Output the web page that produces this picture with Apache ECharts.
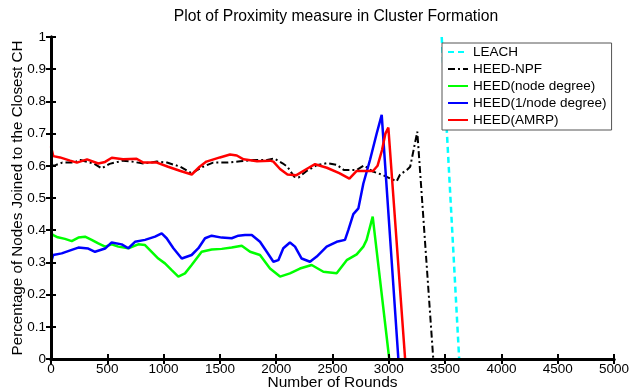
<!DOCTYPE html>
<html>
<head>
<meta charset="utf-8">
<script src="https://cdn.jsdelivr.net/npm/echarts@6/dist/echarts.min.js"></script>
<style>html,body{margin:0;padding:0;background:#fff}#c{width:630px;height:392px}</style>
</head>
<body>
<div id="c"></div>
<script>
const titleText = 'Plot of Proximity measure in Cluster Formation';
const xName = 'Number of Rounds';
const yName = 'Percentage of Nodes Joined to the Closest CH';
const seriesNames = ['LEACH', 'HEED-NPF', 'HEED(node degree)', 'HEED(1/node degree)', 'HEED(AMRP)'];

const leach = [[3470,1],[3625,0]];
const heedNpf = [[0,0.6],[40,0.602],[100,0.61],[200,0.61],[260,0.618],[380,0.607],[450,0.592],[520,0.606],[640,0.616],[720,0.613],[820,0.607],[940,0.613],[1030,0.61],[1150,0.597],[1250,0.577],[1350,0.597],[1440,0.61],[1560,0.61],[1680,0.614],[1800,0.618],[1920,0.618],[1980,0.623],[2060,0.607],[2100,0.597],[2160,0.566],[2200,0.564],[2270,0.584],[2360,0.602],[2450,0.608],[2540,0.603],[2600,0.587],[2715,0.587],[2780,0.601],[2860,0.582],[2950,0.571],[3010,0.561],[3070,0.552],[3100,0.573],[3160,0.587],[3190,0.597],[3253,0.706],[3395,0]];
const heedNodeDegree = [[0,0.39],[20,0.385],[60,0.378],[124,0.373],[184,0.366],[243,0.377],[302,0.38],[361,0.37],[420,0.359],[480,0.349],[539,0.356],[598,0.349],[687,0.344],[775,0.356],[835,0.354],[894,0.333],[953,0.312],[1012,0.297],[1072,0.276],[1131,0.256],[1190,0.266],[1249,0.292],[1338,0.333],[1427,0.34],[1516,0.342],[1605,0.346],[1694,0.352],[1768,0.333],[1856,0.323],[1945,0.281],[2034,0.256],[2122,0.266],[2211,0.281],[2315,0.292],[2419,0.271],[2537,0.266],[2626,0.307],[2715,0.325],[2774,0.349],[2803,0.37],[2857,0.442],[3004,0]];
const heedInvDegree = [[0,0.30],[20,0.323],[95,0.328],[184,0.339],[243,0.346],[331,0.343],[391,0.333],[480,0.343],[539,0.362],[628,0.356],[687,0.344],[746,0.364],[835,0.37],[924,0.38],[983,0.39],[1027,0.375],[1087,0.344],[1161,0.312],[1249,0.323],[1309,0.344],[1368,0.375],[1427,0.383],[1516,0.377],[1605,0.375],[1664,0.383],[1723,0.385],[1783,0.385],[1856,0.364],[1916,0.333],[1975,0.302],[2019,0.307],[2063,0.344],[2122,0.362],[2167,0.349],[2226,0.312],[2300,0.302],[2360,0.318],[2448,0.349],[2537,0.364],[2611,0.37],[2641,0.401],[2685,0.45],[2730,0.468],[2774,0.545],[2833,0.618],[2893,0.701],[2937,0.758],[3085,0]];
const heedAmrp = [[0,0.66],[20,0.63],[80,0.626],[170,0.616],[230,0.61],[320,0.62],[420,0.607],[480,0.612],[540,0.625],[640,0.62],[760,0.622],[820,0.61],[940,0.61],[1040,0.597],[1150,0.584],[1250,0.573],[1320,0.597],[1380,0.613],[1500,0.626],[1590,0.635],[1650,0.632],[1710,0.62],[1830,0.614],[1945,0.616],[1975,0.613],[2034,0.59],[2100,0.573],[2180,0.571],[2270,0.59],[2345,0.605],[2450,0.594],[2560,0.577],[2650,0.56],[2715,0.584],[2800,0.584],[2860,0.584],[2900,0.6],[2940,0.649],[2970,0.70],[2996,0.719],[3145,0]];

const font = 'Liberation Sans, Arial, sans-serif';
const chart = echarts.init(document.getElementById('c'), null, {renderer: 'canvas'});
const axisLine = {show: true, lineStyle: {color: '#000', width: 3}};
const tick = {show: true, inside: true, length: 5, lineStyle: {color: '#000', width: 2}};
const lbl = {color: '#000', fontSize: 13.5, fontFamily: font};
chart.setOption({
  animation: false,
  backgroundColor: '#fff',
  title: {text: titleText, left: 331, top: 4, textAlign: 'center',
    textStyle: {fontSize: 15.7, fontWeight: 'normal', color: '#000', fontFamily: font}},
  grid: {left: 51, right: 16, top: 37, bottom: 33, containLabel: false, outerBoundsMode: 'none'},
  legend: {
    orient: 'vertical', left: 442, top: 43, padding: [2, 5, 3, 5],
    itemWidth: 20, itemHeight: 12, itemGap: 3,
    itemStyle: {opacity: 0},
    backgroundColor: '#fff', borderColor: '#555', borderWidth: 1, borderRadius: 0,
    textStyle: {fontSize: 13.5, color: '#000', fontFamily: font},
    data: seriesNames
  },
  xAxis: [
    {type: 'value', position: 'bottom', min: 0, max: 5000, interval: 500, z: 5,
     name: xName, nameLocation: 'middle', nameGap: 16, nameMoveOverlap: false,
     nameTextStyle: {fontSize: 15.5, color: '#000', fontFamily: font},
     axisLine: axisLine, axisTick: tick,
     axisLabel: Object.assign({margin: 3, formatter: v => String(v)}, lbl), splitLine: {show: false}},
    {type: 'value', position: 'top', min: 0, max: 5000, interval: 500, z: 5,
     axisLine: axisLine, axisTick: tick, axisLabel: {show: false}, splitLine: {show: false}}
  ],
  yAxis: [
    {type: 'value', position: 'left', min: 0, max: 1, interval: 0.1, z: 5,
     name: yName, nameLocation: 'middle', nameGap: 26, nameMoveOverlap: false,
     nameTextStyle: {fontSize: 15.2, color: '#000', fontFamily: font},
     axisLine: axisLine, axisTick: tick,
     axisLabel: Object.assign({margin: 5, formatter: v => String(+v.toFixed(1))}, lbl), splitLine: {show: false}},
    {type: 'value', position: 'right', min: 0, max: 1, interval: 0.1, z: 5,
     axisLine: axisLine, axisTick: tick, axisLabel: {show: false}, splitLine: {show: false}}
  ],
  series: [
    {name: seriesNames[0], type: 'line', data: leach, symbol: 'none', z: 2,
     lineStyle: {color: '#00ffff', width: 2.5, type: [6, 4]}, itemStyle: {color: '#00ffff'}},
    {name: seriesNames[1], type: 'line', data: heedNpf, symbol: 'none', z: 2,
     lineStyle: {color: '#000', width: 2, type: [7, 3, 2, 3]}, itemStyle: {color: '#000'}},
    {name: seriesNames[2], type: 'line', data: heedNodeDegree, symbol: 'none', z: 2,
     lineStyle: {color: '#00ff00', width: 2.5}, itemStyle: {color: '#00ff00'}},
    {name: seriesNames[3], type: 'line', data: heedInvDegree, symbol: 'none', z: 2,
     lineStyle: {color: '#0000ff', width: 2.5}, itemStyle: {color: '#0000ff'}},
    {name: seriesNames[4], type: 'line', data: heedAmrp, symbol: 'none', z: 2,
     lineStyle: {color: '#ff0000', width: 2.5}, itemStyle: {color: '#ff0000'}}
  ]
});
</script>
</body>
</html>
